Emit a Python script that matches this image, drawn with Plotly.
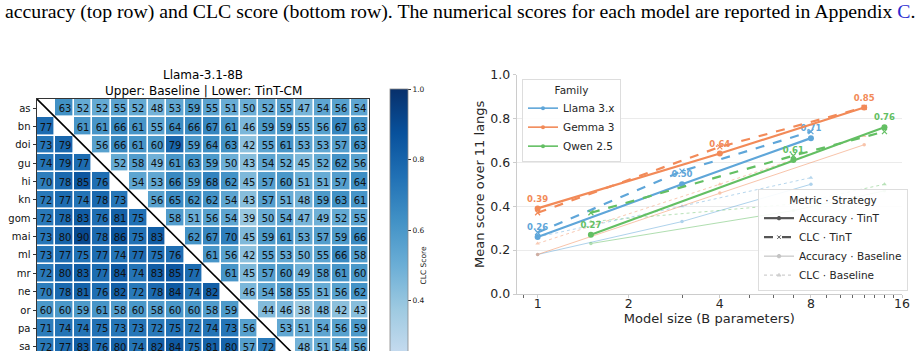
import plotly.graph_objects as go
import plotly.colors as pc

W, H = 918, 351

# ---------------- heatmap data (visible rows) ----------------
langs = ["as", "bn", "doi", "gu", "hi", "kn", "gom", "mai", "ml", "mr",
         "ne", "or", "pa", "sa", "sd", "ta", "te", "ur"]
row_as  = [None, 63, 52, 52, 55, 52, 48, 53, 59, 55, 51, 50, 52, 55, 47, 54, 56, 54]
row_bn  = [77, None, 61, 61, 66, 61, 55, 64, 66, 67, 61, 46, 59, 59, 55, 56, 67, 63]
row_doi = [73, 79, None, 56, 66, 61, 60, 79, 59, 64, 63, 42, 55, 61, 53, 53, 57, 63]
row_gu  = [74, 79, 77, None, 52, 58, 49, 61, 63, 59, 50, 43, 54, 52, 45, 52, 62, 56]
row_hi  = [70, 78, 85, 76, None, 54, 53, 66, 59, 68, 62, 45, 57, 60, 51, 51, 57, 64]
row_kn  = [72, 77, 74, 78, 73, None, 56, 65, 62, 62, 54, 43, 57, 51, 48, 59, 63, 61]
row_gom = [72, 78, 83, 76, 81, 75, None, 58, 51, 56, 54, 39, 50, 54, 47, 49, 52, 55]
row_mai = [73, 80, 90, 78, 86, 75, 83, None, 62, 67, 70, 45, 59, 61, 53, 57, 59, 66]
row_ml  = [73, 77, 75, 77, 74, 77, 75, 76, None, 61, 56, 42, 55, 53, 50, 55, 66, 58]
row_mr  = [72, 80, 83, 77, 84, 74, 83, 85, 77, None, 61, 45, 57, 60, 49, 58, 61, 60]
row_ne  = [70, 78, 81, 76, 82, 72, 78, 84, 74, 82, None, 46, 54, 58, 55, 51, 56, 62]
row_or  = [60, 60, 59, 61, 58, 60, 58, 60, 60, 58, 59, None, 44, 46, 38, 48, 42, 43]
row_pa  = [71, 74, 74, 75, 73, 73, 72, 75, 72, 74, 73, 56, None, 53, 51, 54, 56, 59]
row_sa  = [72, 77, 83, 76, 80, 74, 82, 84, 75, 81, 80, 57, 72, None, 48, 51, 54, 56]
rows = [row_as, row_bn, row_doi, row_gu, row_hi, row_kn, row_gom, row_mai,
        row_ml, row_mr, row_ne, row_or, row_pa, row_sa]

# ---------------- scaling plot data ----------------
families = ["Llama 3.x", "Gemma 3", "Qwen 2.5"]
fam_colors = ["#5fa6d9", "#f28a58", "#63bf63"]
llama_sizes = [1, 3, 8]
gemma_sizes = [1, 4, 12]
qwen_sizes = [1.5, 7, 14]
llama_acc_tint = [0.26, 0.50, 0.71]
llama_clc_tint = [0.28, 0.56, 0.74]
llama_acc_base = [0.18, 0.33, 0.50]
llama_clc_base = [0.26, 0.40, 0.53]
gemma_acc_tint = [0.39, 0.64, 0.85]
gemma_clc_tint = [0.37, 0.67, 0.85]
gemma_acc_base = [0.18, 0.46, 0.68]
gemma_clc_base = [0.23, 0.50, 0.72]
qwen_acc_tint = [0.27, 0.61, 0.76]
qwen_clc_tint = [0.37, 0.63, 0.74]
qwen_acc_base = [0.23, 0.38, 0.47]
qwen_clc_base = [0.33, 0.41, 0.50]

caption = ("accuracy (top row) and CLC score (bottom row). The numerical scores for each "
           "model are reported in Appendix <span style='color:#2a2ad0'>C</span>.")

def px_x(p):
    return p / W

def px_y(p):
    return 1 - p / H

fig = go.Figure()

# ---------------- heatmap ----------------
n = len(langs)
z = [[(v / 100 if v is not None else None) for v in r] for r in rows]
txt = [[(str(v) if v is not None else "") for v in r] for r in rows]
fig.add_trace(go.Heatmap(
    z=z, x=list(range(n)), y=list(range(len(rows))), text=txt,
    texttemplate="%{text}", textfont=dict(family="DejaVu Sans", size=10, color="#111111"),
    colorscale=pc.sequential.Blues, zmin=0, zmax=1, xgap=1.6, ygap=1.6,
    xaxis="x", yaxis="y",
    colorbar=dict(x=px_x(390), xanchor="left", xpad=0, ypad=0,
                  thickness=18, thicknessmode="pixels",
                  y=px_y(89), yanchor="top", len=352.5, lenmode="pixels",
                  tickvals=[0.0, 0.2, 0.4, 0.6, 0.8, 1.0], ticktext=["0.0", "0.2", "0.4", "0.6", "0.8", "1.0"],
                  ticks="outside", ticklen=3, tickcolor="#333", tickwidth=0.8,
                  tickfont=dict(family="DejaVu Sans", size=7.5, color="#222"),
                  outlinewidth=0.8, outlinecolor="#888",
                  title=dict(text="CLC Score", side="right",
                             font=dict(family="DejaVu Sans", size=7.5, color="#222"))),
))
fig.add_trace(go.Scatter(x=[-0.5, n - 0.5], y=[-0.5, n - 0.5], mode="lines",
                         line=dict(color="black", width=1.6), showlegend=False,
                         xaxis="x", yaxis="y", hoverinfo="skip"))

# ---------------- scaling lines ----------------
fam_data = [
    (llama_sizes, llama_acc_tint, llama_clc_tint, llama_acc_base, llama_clc_base),
    (gemma_sizes, gemma_acc_tint, gemma_clc_tint, gemma_acc_base, gemma_clc_base),
    (qwen_sizes, qwen_acc_tint, qwen_clc_tint, qwen_acc_base, qwen_clc_base),
]
for (sizes, at, ct, ab, cb), col in zip(fam_data, fam_colors):
    fig.add_trace(go.Scatter(x=sizes, y=cb, mode="lines+markers", opacity=0.45,
                             line=dict(color=col, width=1, dash="dot"),
                             marker=dict(symbol="triangle-up", size=4, color=col),
                             showlegend=False, xaxis="x2", yaxis="y2"))
    fig.add_trace(go.Scatter(x=sizes, y=ab, mode="lines+markers", opacity=0.5,
                             line=dict(color=col, width=1),
                             marker=dict(symbol="circle", size=3.5, color=col),
                             showlegend=False, xaxis="x2", yaxis="y2"))
for (sizes, at, ct, ab, cb), col in zip(fam_data, fam_colors):
    fig.add_trace(go.Scatter(x=sizes, y=ct, mode="lines+markers",
                             line=dict(color=col, width=2.2, dash="dash"),
                             marker=dict(symbol="x-thin", size=5, color=col, line=dict(width=1.2, color=col)),
                             showlegend=False, xaxis="x2", yaxis="y2"))
    fig.add_trace(go.Scatter(x=sizes, y=at, mode="lines+markers+text",
                             line=dict(color=col, width=2.2),
                             marker=dict(symbol="circle", size=6, color=col),
                             text=[f"{v:.2f}" for v in at], textposition="top center",
                             textfont=dict(family="DejaVu Sans", size=8.5, color=col, weight="bold"),
                             showlegend=False, xaxis="x2", yaxis="y2"))

# legend entries: families
for fam, col in zip(families, fam_colors):
    fig.add_trace(go.Scatter(x=[None], y=[None], mode="lines+markers", name=fam,
                             line=dict(color=col, width=1.6), marker=dict(size=4, color=col),
                             legend="legend", xaxis="x2", yaxis="y2"))
# legend entries: metric / strategy
metric_entries = [("Accuracy · TinT", "#555555", 2.2, "solid", "circle"),
                  ("CLC · TinT", "#555555", 2.2, "dash", "x-thin"),
                  ("Accuracy · Baseline", "#c4c4c4", 1.2, "solid", "circle"),
                  ("CLC · Baseline", "#cfcfcf", 1.2, "dot", "triangle-up")]
for name, col, wdt, dsh, sym in metric_entries:
    fig.add_trace(go.Scatter(x=[None], y=[None], mode="lines+markers", name=name,
                             line=dict(color=col, width=wdt, dash=dsh),
                             marker=dict(size=3.5, color=col, symbol=sym, line=dict(width=1, color=col)),
                             legend="legend2", xaxis="x2", yaxis="y2"))

tick_font = dict(family="DejaVu Sans", size=12.5, color="#262626")
fig.update_layout(
    width=W, height=H, autosize=False,
    margin=dict(l=0, r=0, t=0, b=0, autoexpand=False),
    paper_bgcolor="white", plot_bgcolor="white",
    font=dict(family="DejaVu Sans", color="#262626"),
    xaxis=dict(domain=[px_x(37), px_x(369)], range=[-0.5, n - 0.5], side="top",
               showticklabels=False, ticks="", showgrid=False, zeroline=False,
               showline=True, linecolor="#333", linewidth=1),
    yaxis=dict(domain=[0, px_y(99)], range=[-0.5 + (351 - 99) / 18.35, -0.5],
               tickvals=list(range(len(rows))), ticktext=langs[:len(rows)],
               ticks="outside", ticklen=3.5, tickcolor="#333", ticklabeloverflow="allow",
               tickfont=dict(family="DejaVu Sans", size=10, color="#111"),
               showgrid=False, zeroline=False, showline=True, mirror=True,
               linecolor="#333", linewidth=1),
    xaxis2=dict(domain=[px_x(516.7), px_x(902)], type="log", anchor="y2",
                range=[-0.0691, 1.2041], tickvals=[1, 2, 4, 8, 16], ticktext=["1", "2", "4", "8", "16"],
                ticks="outside", ticklen=3, tickcolor="#cccccc", tickfont=tick_font,
                ticklabelstandoff=-5,
                minor=dict(tickvals=[0.9, 3, 5, 6, 7, 9, 10, 11, 12, 13, 14, 15],
                           ticks="outside", ticklen=2.5, tickcolor="#666"),
                showgrid=False, zeroline=False, showline=True, linecolor="#cccccc", linewidth=1,
                title=dict(text="Model size (B parameters)", standoff=2,
                           font=dict(family="DejaVu Sans", size=13, color="#262626"))),
    yaxis2=dict(domain=[px_y(294), px_y(74.5)], anchor="x2", range=[0, 1.0],
                tickvals=[0, 0.2, 0.4, 0.6, 0.8, 1.0], ticktext=["0.0", "0.2", "0.4", "0.6", "0.8", "1.0"],
                ticks="outside", ticklen=3, tickcolor="#cccccc", tickfont=tick_font,
                showgrid=True, gridcolor="#ebebeb", gridwidth=1, zeroline=False,
                showline=True, linecolor="#cccccc", linewidth=1,
                title=dict(text="Mean score over 11 langs", standoff=2,
                           font=dict(family="DejaVu Sans", size=13, color="#262626"))),
    legend=dict(x=px_x(522), y=px_y(79), xanchor="left", yanchor="top",
                bgcolor="rgba(255,255,255,0.9)", bordercolor="#dddddd", borderwidth=1,
                font=dict(family="DejaVu Sans", size=10.5, color="#262626"),
                title=dict(text="Family", side="top center",
                           font=dict(family="DejaVu Sans", size=10.5, color="#262626")),
                itemwidth=30, tracegroupgap=0),
    legend2=dict(x=px_x(758), y=px_y(291), xanchor="left", yanchor="bottom",
                 bgcolor="rgba(255,255,255,0.9)", bordercolor="#dddddd", borderwidth=1,
                 font=dict(family="DejaVu Sans", size=10.5, color="#262626"),
                 title=dict(text="Metric · Strategy", side="top center",
                            font=dict(family="DejaVu Sans", size=10.5, color="#262626")),
                 itemwidth=30, tracegroupgap=0),
    annotations=[
        dict(text=caption, x=px_x(3), y=px_y(12), xref="paper", yref="paper",
             xanchor="left", yanchor="middle", showarrow=False,
             font=dict(family="Liberation Serif", size=19.8, color="black")),
        dict(text="Llama-3.1-8B", x=px_x(203), y=px_y(75), xref="paper", yref="paper",
             xanchor="center", yanchor="middle", showarrow=False,
             font=dict(family="DejaVu Sans", size=12, color="black")),
        dict(text="Upper: Baseline | Lower: TinT-CM", x=px_x(203), y=px_y(91), xref="paper", yref="paper",
             xanchor="center", yanchor="middle", showarrow=False,
             font=dict(family="DejaVu Sans", size=12, color="black")),
    ],
)

fig.write_html("out.html")
